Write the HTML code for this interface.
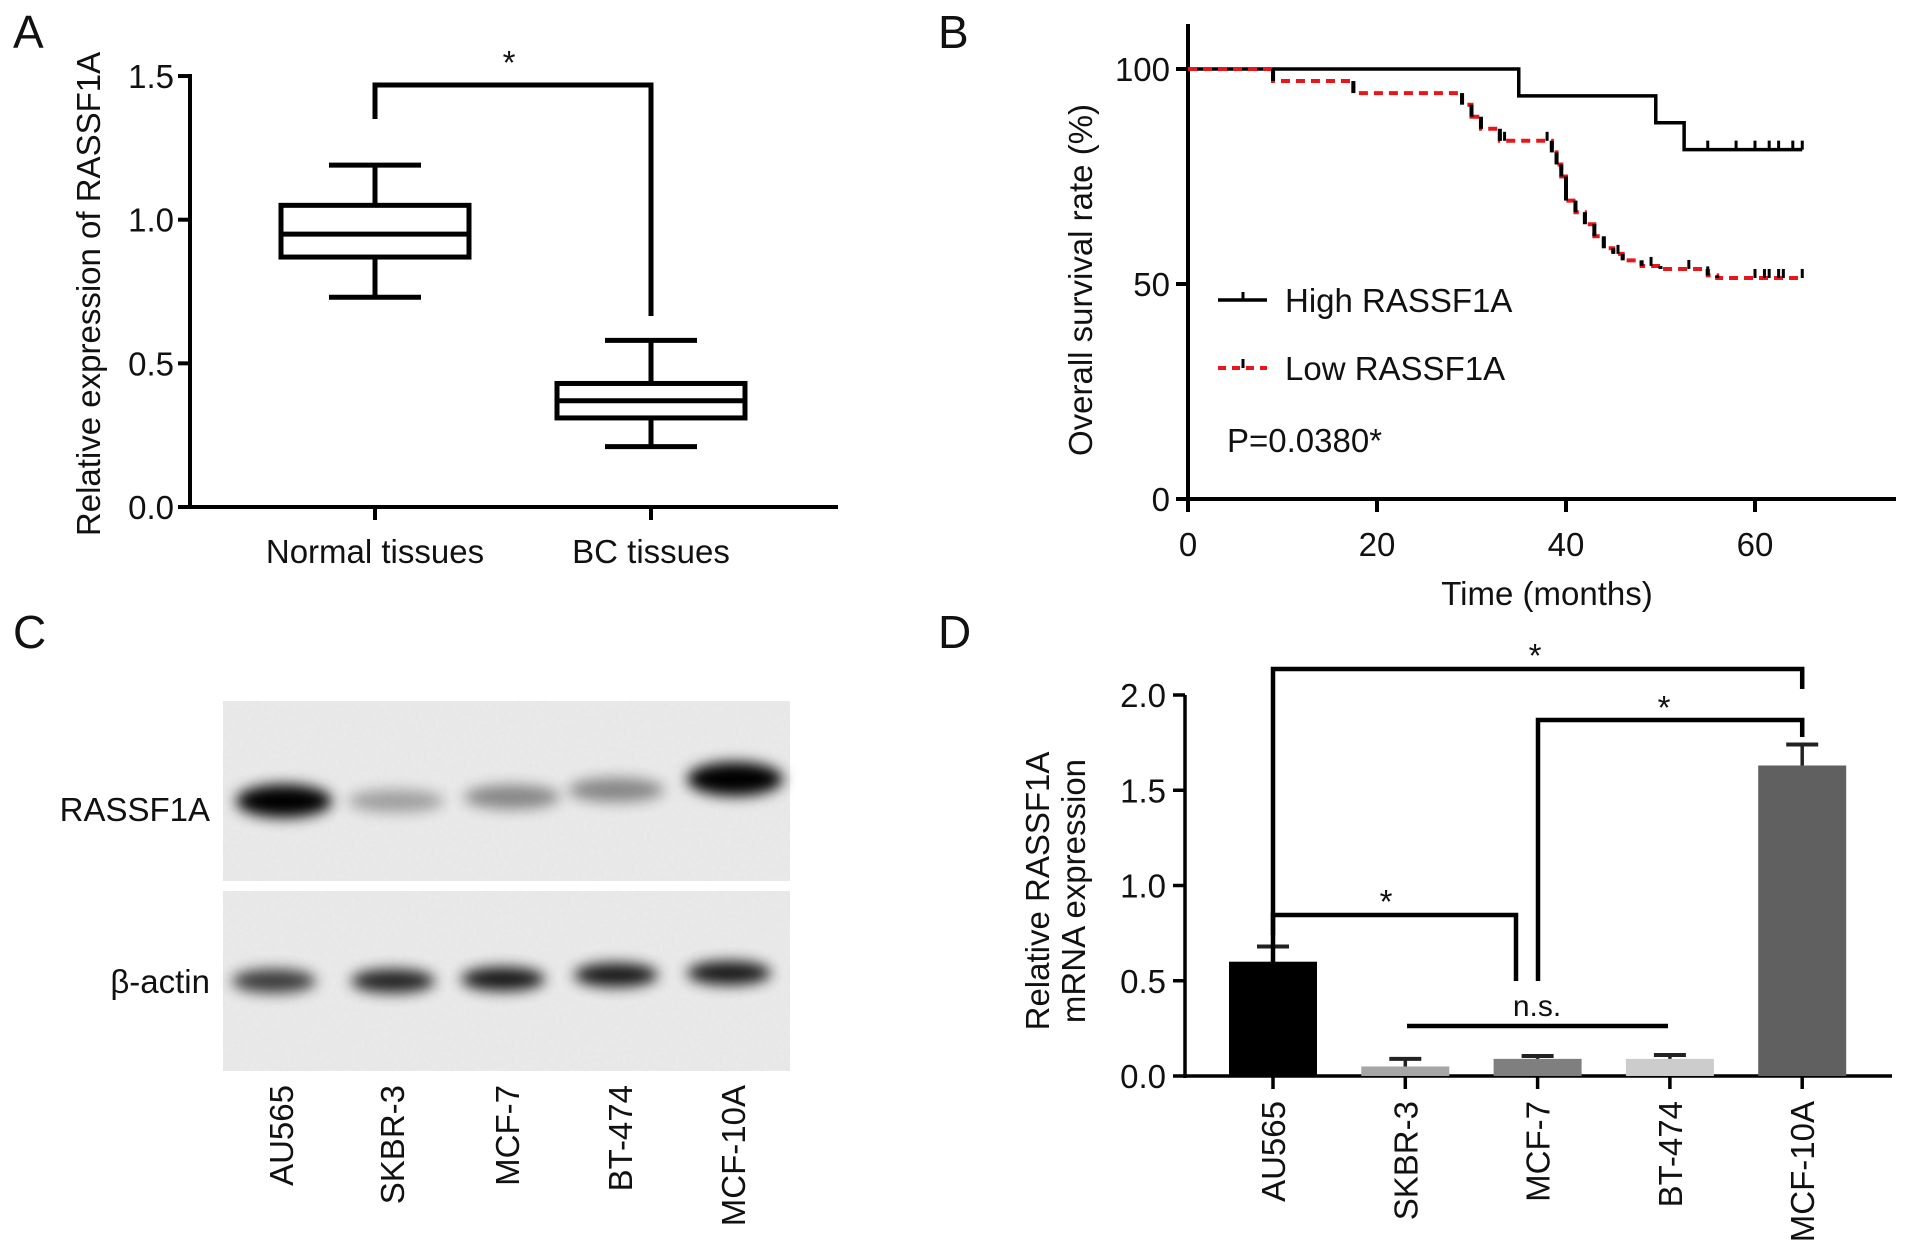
<!DOCTYPE html>
<html><head><meta charset="utf-8"><style>
html,body{margin:0;padding:0;background:#fff;}
svg{display:block;font-family:"Liberation Sans",Arial,sans-serif;}
</style></head><body>
<svg id="fig" width="1913" height="1255" viewBox="0 0 1913 1255" xmlns="http://www.w3.org/2000/svg">
<defs>
<filter id="blur" x="-50%" y="-100%" width="200%" height="300%"><feGaussianBlur stdDeviation="7"/></filter>
<filter id="noise" x="0" y="0" width="1" height="1"><feTurbulence type="fractalNoise" baseFrequency="0.25" numOctaves="2" seed="3"/><feColorMatrix values="0 0 0 0 0.5  0 0 0 0 0.5  0 0 0 0 0.5  0 0 0 0.12 0"/></filter>
</defs>
<g id="panelA"></g>
<g id="panelB"></g>
<g id="panelC"></g>
<g id="panelD"></g>
</svg>
<script>
// Panel A data
const groupsA = ["Normal tissues", "BC tissues"];
const boxMin = [0.73, 0.21];
const boxQ1 = [0.87, 0.31];
const boxMed = [0.95, 0.37];
const boxQ3 = [1.05, 0.43];
const boxMax = [1.19, 0.58];
const ticksA = [0.0, 0.5, 1.0, 1.5];
// Panel B data
const highT = [0, 35, 49.5, 52.5, 65];
const highS = [100, 93.75, 87.5, 81.25, 81.25];
const highCens = [55, 58, 60, 61.5, 62.5, 64, 65];
const lowT = [0, 9, 17.5, 29, 30, 31, 33, 38.5, 39, 39.5, 40, 41, 42, 43, 44, 45, 46, 48, 50, 55, 56, 65];
const lowS = [100, 97.2, 94.4, 91.7, 88.9, 86.1, 83.3, 80.6, 77.8, 75, 69.4, 66.7, 63.9, 61.1, 58.3, 57, 55.5, 54.2, 53.5, 52, 51.4, 51.4];
const lowCens = [33.5, 38, 45.5, 49, 53, 55, 60, 61, 61.5, 62.5, 63, 65];
const ticksBx = [0, 20, 40, 60];
const ticksBy = [0, 50, 100];
// Panel C data (band intensities 0..1)
const lanesC = ["AU565", "SKBR-3", "MCF-7", "BT-474", "MCF-10A"];
const rassfBand = [0.95, 0.3, 0.4, 0.4, 1.0];
const actinBand = [0.75, 0.85, 0.9, 0.9, 0.9];
// Panel D data
const linesD = ["AU565", "SKBR-3", "MCF-7", "BT-474", "MCF-10A"];
const meanD = [0.60, 0.05, 0.09, 0.09, 1.63];
const errD = [0.08, 0.04, 0.015, 0.02, 0.11];
const colorsD = ["#000000", "#a6a6a6", "#7f7f7f", "#cccccc", "#606060"];
const ticksD = [0.0, 0.5, 1.0, 1.5, 2.0];

const NS = "http://www.w3.org/2000/svg";
const FS = 33;
function mk(parent, tag, attrs, text) {
  const e = document.createElementNS(NS, tag);
  for (const k in attrs) e.setAttribute(k, attrs[k]);
  if (text !== undefined) e.textContent = text;
  parent.appendChild(e);
  return e;
}
function line(p, x1, y1, x2, y2, w, c, name) {
  const e = mk(p, "line", {x1, y1, x2, y2, stroke: c || "#000", "stroke-width": w || 4});
  
  
  return e;
}
function txt(p, x, y, s, size, anchor, name, rot) {
  const a = {x, y, "font-size": size, "text-anchor": anchor || "middle", fill: "#111"};
  if (rot) a.transform = "rotate(-90 " + x + " " + y + ")";
  const e = mk(p, "text", a, s);
  
  
  return e;
}

// ---------- Panel A ----------
(function () {
  const g = document.getElementById("panelA");
  const x0 = 190, yA = v => 507 - v * 287.3;
  const xc = [375, 651], hw = 94, ww = 46;
  txt(g, 13, 48, "A", 46, "start", "panel-label-a");
  line(g, x0, yA(0) + 2, x0, yA(1.5) - 2, 4, "#000", "y-axis");
  line(g, x0 - 2, yA(0), 838, yA(0), 4, "#000", "x-axis");
  ticksA.forEach(t => {
    line(g, x0 - 12, yA(t), x0, yA(t), 4, "#000", "y-tick");
    txt(g, x0 - 16, yA(t) + 12, t.toFixed(1), FS, "end", "y-tick-label");
  });
  txt(g, 100, 294, "Relative expression of RASSF1A", FS, "middle", "y-axis-title", true);
  groupsA.forEach((name, i) => {
    const c = xc[i];
    line(g, c, yA(0), c, yA(0) + 13, 4, "#000", "x-tick");
    txt(g, c, 563, name, FS, "middle", "x-tick-label");
    line(g, c, yA(boxMax[i]), c, yA(boxQ3[i]), 5, "#000", "whisker");
    line(g, c, yA(boxQ1[i]), c, yA(boxMin[i]), 5, "#000", "whisker");
    line(g, c - ww, yA(boxMax[i]), c + ww, yA(boxMax[i]), 5, "#000", "whisker-cap");
    line(g, c - ww, yA(boxMin[i]), c + ww, yA(boxMin[i]), 5, "#000", "whisker-cap");
    const r = mk(g, "rect", {x: c - hw, y: yA(boxQ3[i]), width: 2 * hw, height: yA(boxQ1[i]) - yA(boxQ3[i]), fill: "none", stroke: "#000", "stroke-width": 5});
    
    
    line(g, c - hw, yA(boxMed[i]), c + hw, yA(boxMed[i]), 5, "#000", "median-line");
  });
  const p = mk(g, "polyline", {points: `${xc[0]},119 ${xc[0]},85 ${xc[1]},85 ${xc[1]},316`, fill: "none", stroke: "#000", "stroke-width": 5});
  
  
  txt(g, 509, 74, "*", FS, "middle", "significance-star");
})();

// ---------- Panel B ----------
(function () {
  const g = document.getElementById("panelB");
  const xB = t => 1188 + t * 9.45, yB = s => 499 - s * 4.3;
  txt(g, 938, 48, "B", 46, "start", "panel-label-b");
  line(g, 1188, 24, 1188, 501, 4, "#000", "y-axis");
  line(g, 1186, 499, 1896, 499, 4, "#000", "x-axis");
  ticksBy.forEach(t => {
    line(g, 1176, yB(t), 1188, yB(t), 4, "#000", "y-tick");
    txt(g, 1170, yB(t) + 12, String(t), FS, "end", "y-tick-label");
  });
  ticksBx.forEach(t => {
    line(g, xB(t), 499, xB(t), 512, 4, "#000", "x-tick");
    txt(g, xB(t), 556, String(t), FS, "middle", "x-tick-label");
  });
  txt(g, 1092, 280, "Overall survival rate (%)", FS, "middle", "y-axis-title", true);
  txt(g, 1547, 605, "Time (months)", FS, "middle", "x-axis-title");
  function stepPts(T, S) {
    let pts = [];
    for (let i = 0; i < T.length; i++) {
      if (i > 0) pts.push(xB(T[i]) + "," + yB(S[i - 1]));
      pts.push(xB(T[i]) + "," + yB(S[i]));
    }
    return pts.join(" ");
  }
  function survAt(T, S, t) { let s = S[0]; for (let i = 0; i < T.length; i++) if (T[i] <= t) s = S[i]; return s; }
  const hp = mk(g, "polyline", {points: stepPts(highT, highS), fill: "none", stroke: "#000", "stroke-width": 3.5});
  
  
  highCens.forEach(t => line(g, xB(t), yB(survAt(highT, highS, t)), xB(t), yB(survAt(highT, highS, t)) - 9, 3, "#000", "censor-mark-high"));
  const lp = mk(g, "polyline", {points: stepPts(lowT, lowS), fill: "none", stroke: "#e8161b", "stroke-width": 4, "stroke-dasharray": "9 6"});
  
  
  for (let i = 1; i < lowT.length; i++) {
    if (lowS[i] !== lowS[i - 1]) line(g, xB(lowT[i]), yB(lowS[i - 1]), xB(lowT[i]), yB(lowS[i]), 4, "#000", "low-curve-drop");
  }
  lowCens.forEach(t => line(g, xB(t), yB(survAt(lowT, lowS, t)), xB(t), yB(survAt(lowT, lowS, t)) - 9, 3, "#000", "censor-mark-low"));
  // legend
  line(g, 1218, 300, 1267, 300, 3.5, "#000", "legend-high-line");
  line(g, 1243, 300, 1243, 292, 3, "#000", "legend-high-censor");
  txt(g, 1285, 312, "High RASSF1A", FS, "start", "legend-high-label");
  line(g, 1218, 368, 1267, 368, 4, "#e8161b", "legend-low-line").setAttribute("stroke-dasharray", "8 6");
  line(g, 1243, 368, 1243, 359, 3, "#000", "legend-low-censor");
  txt(g, 1285, 380, "Low RASSF1A", FS, "start", "legend-low-label");
  txt(g, 1227, 452, "P=0.0380*", FS, "start", "p-value-label");
})();

// ---------- Panel C ----------
(function () {
  const g = document.getElementById("panelC");
  txt(g, 13, 648, "C", 46, "start", "panel-label-c");
  const lx = [284, 396, 512, 616, 735];
  const ax = [274, 393, 503, 616, 729];
  const ry = [801, 801, 797, 790, 779];
  const ay = [981, 981, 979, 975, 973];
  [[701, 881, "rassf1a-blot"], [891, 1071, "actin-blot"]].forEach(b => {
    const r = mk(g, "rect", {x: 223, y: b[0], width: 567, height: b[1] - b[0], fill: "#ebebeb"});
    
    
    const n = mk(g, "rect", {x: 223, y: b[0], width: 567, height: b[1] - b[0], filter: "url(#noise)"});
    
    
  });
  rassfBand.forEach((v, i) => {
    const e = mk(g, "ellipse", {cx: lx[i], cy: ry[i], rx: 48, ry: 9 + 8 * v, fill: "#000", opacity: Math.min(1, v * 1.05), filter: "url(#blur)"});
    
    
  });
  actinBand.forEach((v, i) => {
    const e = mk(g, "ellipse", {cx: ax[i], cy: ay[i], rx: 42, ry: 12, fill: "#000", opacity: v, filter: "url(#blur)"});
    
    
  });
  txt(g, 210, 821, "RASSF1A", FS, "end", "rassf1a-label");
  txt(g, 210, 993, "β-actin", FS, "end", "beta-actin-label");
  lanesC.forEach((name, i) => {
    const x = [281, 392, 507, 620, 733][i] + 12;
    txt(g, x, 1085, name, FS, "end", "lane-label", true);
  });
})();

// ---------- Panel D ----------
(function () {
  const g = document.getElementById("panelD");
  const yD = v => 1076 - v * 190.5;
  const xD = i => 1273 + i * 132.3;
  const bw = 88;
  txt(g, 938, 648, "D", 46, "start", "panel-label-d");
  line(g, 1185, yD(2.0), 1185, 1078, 3.5, "#000", "y-axis");
  line(g, 1183, 1076, 1892, 1076, 3.5, "#000", "x-axis");
  ticksD.forEach(t => {
    line(g, 1173, yD(t), 1185, yD(t), 3.5, "#000", "y-tick");
    txt(g, 1166, yD(t) + 12, t.toFixed(1), FS, "end", "y-tick-label");
  });
  txt(g, 1049, 891, "Relative RASSF1A", FS, "middle", "y-axis-title-line1", true);
  txt(g, 1085, 891, "mRNA expression", FS, "middle", "y-axis-title-line2", true);
  meanD.forEach((v, i) => {
    const c = xD(i);
    const r = mk(g, "rect", {x: c - bw / 2, y: yD(v), width: bw, height: yD(0) - yD(v), fill: colorsD[i]});
    
    
    line(g, c, yD(v), c, yD(v + errD[i]), 3.5, i === 0 ? "#000" : "#222", "error-bar");
    line(g, c - 16, yD(v + errD[i]), c + 16, yD(v + errD[i]), 4, "#222", "error-cap");
    line(g, c, 1076, c, 1089, 3.5, "#000", "x-tick");
    txt(g, c + 12, 1101, linesD[i], FS, "end", "x-tick-label", true);
  });
  function bracket(pts, name) {
    const p = mk(g, "polyline", {points: pts.map(q => q.join(",")).join(" "), fill: "none", stroke: "#000", "stroke-width": 4.5});
    
    
  }
  bracket([[xD(0), 1027], [xD(0), 669], [xD(4), 669], [xD(4), 689]], "bracket-au565-mcf10a");
  txt(g, 1535, 667, "*", FS, "middle", "star-au565-mcf10a");
  bracket([[1538, 981], [1538, 720], [xD(4), 720], [xD(4), 737]], "bracket-mcf7-mcf10a");
  txt(g, 1664, 719, "*", FS, "middle", "star-mcf7-mcf10a");
  bracket([[xD(0), 935], [xD(0), 915], [1516, 915], [1516, 981]], "bracket-au565-mcf7");
  txt(g, 1386, 913, "*", FS, "middle", "star-au565-mcf7");
  line(g, 1407, 1026, 1668, 1026, 4.5, "#000", "ns-line");
  txt(g, 1537, 1016, "n.s.", 30, "middle", "ns-label");
})();
</script>
</body></html>
